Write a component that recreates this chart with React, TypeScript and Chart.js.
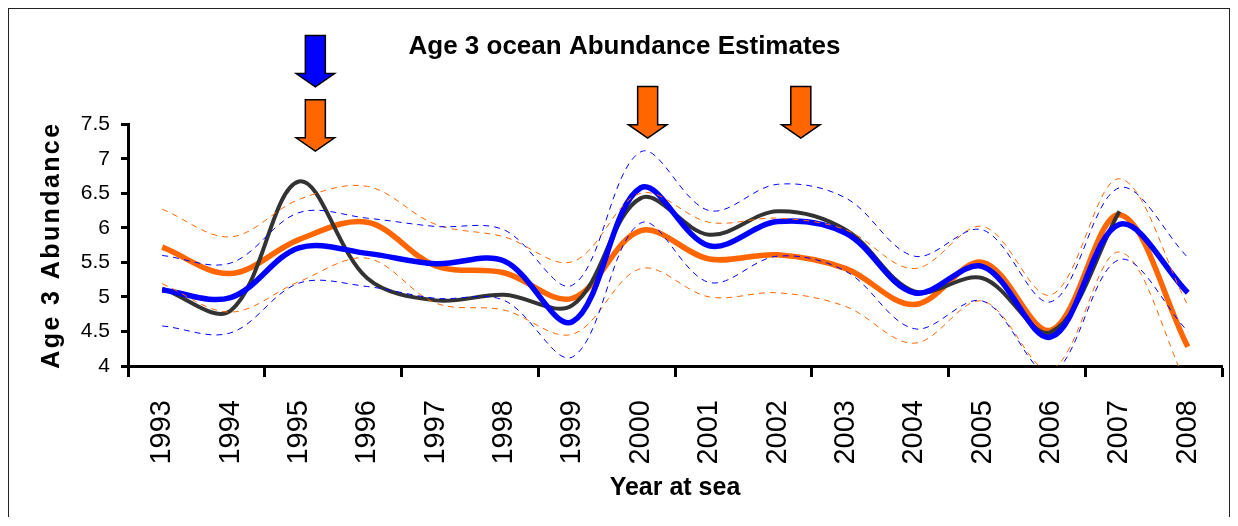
import React, { useEffect, useRef } from 'react';
import { Chart, registerables } from 'chart.js';

Chart.register(...registerables);

// ---- data ----
const years = ['1993', '1994', '1995', '1996', '1997', '1998', '1999', '2000', '2001', '2002', '2003', '2004', '2005', '2006', '2007', '2008'];

const observed = [5.12, 4.8, 6.67, 5.27, 4.95, 5.03, 4.88, 6.43, 5.9, 6.24, 5.97, 5.08, 5.27, 4.49, 6.24, null];

const blueModel = [5.1, 4.99, 5.71, 5.63, 5.48, 5.52, 4.64, 6.58, 5.74, 6.09, 5.92, 5.06, 5.44, 4.42, 6.05, 5.06];
const blueUpper = [5.6, 5.49, 6.22, 6.14, 6.02, 5.97, 5.17, 7.1, 6.25, 6.63, 6.43, 5.59, 5.97, 4.93, 6.58, 5.57];
const blueLower = [4.58, 4.48, 5.2, 5.15, 4.98, 4.95, 4.13, 6.07, 5.21, 5.59, 5.37, 4.54, 4.94, 3.9, 5.54, 4.5];

const orangeModel = [5.72, 5.34, 5.83, 6.08, 5.45, 5.35, 4.98, 5.96, 5.55, 5.61, 5.41, 4.89, 5.5, 4.52, 6.19, 4.28];
const orangeUpper = [6.27, 5.87, 6.41, 6.6, 6.05, 5.87, 5.51, 6.5, 6.08, 6.14, 5.97, 5.41, 6.02, 5.03, 6.71, 4.88];
const orangeLower = [5.19, 4.78, 5.22, 5.56, 4.91, 4.81, 4.46, 5.41, 5.0, 5.06, 4.86, 4.33, 4.94, 3.95, 5.65, 3.7];

const yMin = 4;
const yMax = 7.5;
const yStep = 0.5;

// arrow annotations: category position and tip value
const arrowAt = [2.24, 2.24, 7.1, 9.34];
const arrowTip = [8.04, 7.11, 7.3, 7.3];
const arrowColor = ['#0000FF', '#FF6600', '#FF6600', '#FF6600'];

const BLUE = '#0000FF';
const ORANGE = '#FF6600';
const DARK = '#333333';
const FONT = "'Liberation Sans', Arial, sans-serif";

const arrowPlugin = {
  id: 'arrows',
  afterDraw(chart: any) {
    const { ctx } = chart;
    const xs = chart.scales.x;
    const ys = chart.scales.y;
    const H = 51.5, headH = 13.3, shaftW = 20, headW = 38.5;
    for (let i = 0; i < arrowAt.length; i++) {
      const cx = xs.getPixelForValue(arrowAt[i]);
      const tip = ys.getPixelForValue(arrowTip[i]);
      ctx.save();
      ctx.beginPath();
      ctx.moveTo(cx - shaftW / 2, tip - H);
      ctx.lineTo(cx + shaftW / 2, tip - H);
      ctx.lineTo(cx + shaftW / 2, tip - headH);
      ctx.lineTo(cx + headW / 2, tip - headH);
      ctx.lineTo(cx, tip);
      ctx.lineTo(cx - headW / 2, tip - headH);
      ctx.lineTo(cx - shaftW / 2, tip - headH);
      ctx.closePath();
      ctx.fillStyle = arrowColor[i];
      ctx.fill();
      ctx.lineWidth = 1.5;
      ctx.strokeStyle = '#000';
      ctx.lineJoin = 'miter';
      ctx.stroke();
      ctx.restore();
    }
  },
};

const dashed = (data: (number | null)[], color: string) => ({
  data,
  borderColor: color,
  borderWidth: 1,
  borderDash: [6, 5],
  pointRadius: 0,
  fill: false,
  tension: 0.35,
});

const thick = (data: (number | null)[], color: string, width: number) => ({
  data,
  borderColor: color,
  borderWidth: width,
  pointRadius: 0,
  fill: false,
  tension: 0.35,
  borderJoinStyle: 'round' as const,
});

export default function App() {
  const ref = useRef<HTMLCanvasElement>(null);

  useEffect(() => {
    if (!ref.current) return;
    const chart = new Chart(ref.current, {
      type: 'line',
      data: {
        labels: years,
        datasets: [
          dashed(blueUpper, BLUE),
          dashed(blueLower, BLUE),
          dashed(orangeUpper, ORANGE),
          dashed(orangeLower, ORANGE),
          thick(blueModel, BLUE, 5.5),
          thick(observed, DARK, 4),
          thick(orangeModel, ORANGE, 5.5),
        ] as any,
      },
      options: {
        animation: false,
        responsive: true,
        maintainAspectRatio: false,
        layout: { padding: { left: 18, right: 7, top: 0, bottom: 0 } },
        plugins: {
          legend: { display: false },
          tooltip: { enabled: false },
          title: {
            display: true,
            text: 'Age 3 ocean Abundance Estimates',
            color: '#000',
            font: { family: FONT, size: 26, weight: 'bold' },
            padding: { top: 22, bottom: 62 },
          },
        },
        scales: {
          x: {
            type: 'category',
            offset: true,
            grid: {
              offset: true,
              drawOnChartArea: false,
              drawTicks: true,
              tickLength: 11,
              tickWidth: 3,
              tickColor: (c: any) => (c.index === undefined || c.index % 2 === 0 ? '#000' : 'rgba(0,0,0,0)'),
            },
            border: { display: true, color: '#000', width: 3 },
            ticks: {
              autoSkip: false,
              minRotation: 90,
              maxRotation: 90,
              padding: 23,
              color: '#000',
              font: { family: FONT, size: 29 },
            },
            title: {
              display: true,
              text: 'Year at sea',
              color: '#000',
              font: { family: FONT, size: 25, weight: 'bold' },
              padding: { top: 0, bottom: 14 },
            },
            afterFit: (s: any) => {
              s.height = 151;
              s.paddingLeft = 0;
              s.paddingRight = 0;
            },
          } as any,
          y: {
            min: yMin,
            max: yMax,
            ticks: {
              stepSize: yStep,
              padding: 11,
              color: '#000',
              font: { family: FONT, size: 21 },
              callback: (v: any) => String(Number(v)),
            },
            grid: { drawOnChartArea: false, tickLength: 7, tickWidth: 3, tickColor: '#000' },
            border: { display: true, color: '#000', width: 3 },
            title: {
              display: true,
              text: 'Age 3 Abundance',
              color: '#000',
              font: { family: FONT, size: 25, weight: 'bold' },
              padding: { top: 10, bottom: 0 },
            },
            afterFit: (s: any) => {
              s.width = 101;
              s.paddingTop = 0;
              s.paddingBottom = 0;
              if (!s.__spaced) {
                const orig = s.drawTitle;
                s.drawTitle = function (...args: any[]) {
                  const c = this.ctx;
                  const prev = c.letterSpacing;
                  c.letterSpacing = '2.4px';
                  orig.apply(this, args);
                  c.letterSpacing = prev;
                };
                s.__spaced = true;
              }
            },
          } as any,
        },
      },
      plugins: [arrowPlugin],
    });
    return () => chart.destroy();
  }, []);

  return (
    <div
      style={{
        position: 'relative',
        width: 1220,
        height: 508,
        borderTop: '1px solid #222',
        borderLeft: '1px solid #222',
        borderRight: '1px solid #222',
      }}
    >
      <canvas ref={ref} />
    </div>
  );
}
